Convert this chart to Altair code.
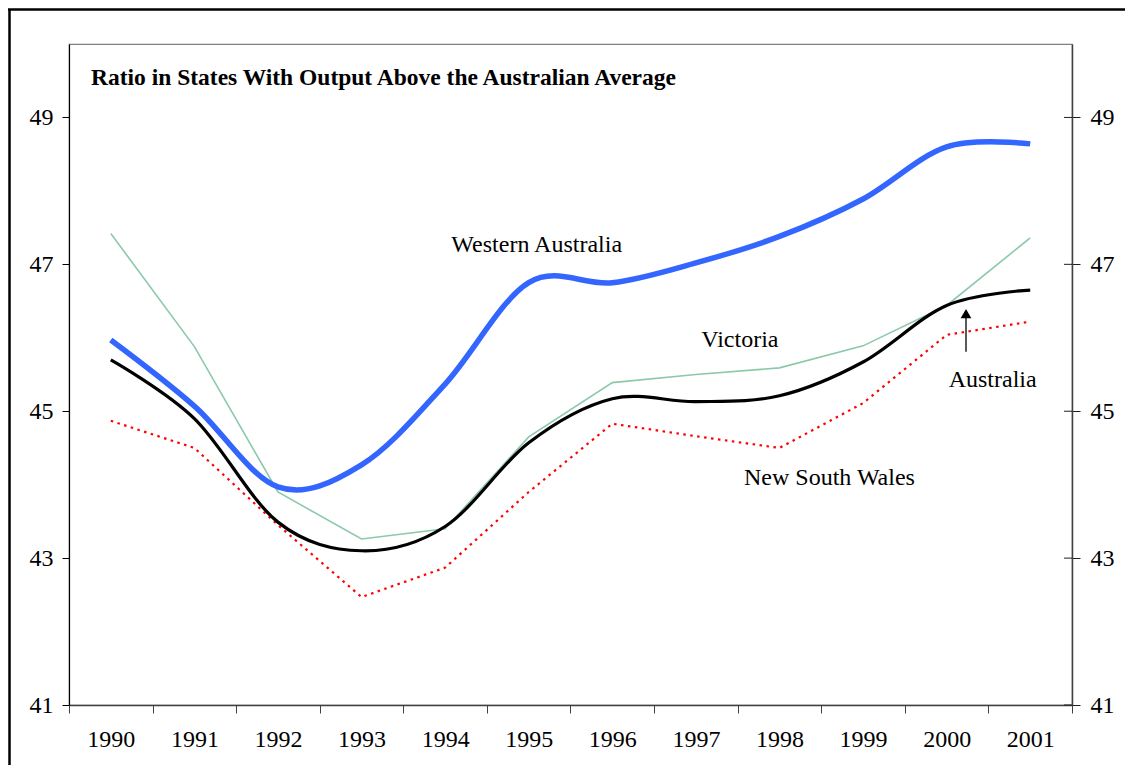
import altair as alt
import pandas as pd

years = ["1990", "1991", "1992", "1993", "1994", "1995", "1996", "1997", "1998", "1999", "2000", "2001"]
western_australia = [45.97, 45.07, 43.97, 44.27, 45.37, 46.75, 46.75, 47.02, 47.38, 47.89, 48.60, 48.64]
australia = [45.70, 44.90, 43.49, 43.10, 43.43, 44.57, 45.17, 45.13, 45.21, 45.67, 46.44, 46.65]
victoria = [47.42, 45.88, 43.90, 43.26, 43.40, 44.65, 45.39, 45.50, 45.59, 45.89, 46.44, 47.36]
new_south_wales = [44.87, 44.50, 43.45, 42.47, 42.87, 43.90, 44.83, 44.66, 44.50, 45.11, 46.04, 46.22]
y_ticks = [41, 43, 45, 47, 49]
title_text = "Ratio in States With Output Above the Australian Average"

W, H = 1003, 661
FONT = "Liberation Serif"
FS = 24

rows = []
for name, vals in [("Western Australia", western_australia), ("Australia", australia),
                   ("Victoria", victoria), ("New South Wales", new_south_wales)]:
    for yr, v in zip(years, vals):
        rows.append({"year": yr, "value": v, "series": name})
df = pd.DataFrame(rows)

yscale = alt.Scale(domain=[41, 50], nice=False, zero=False)
xscale = alt.Scale(type="band", domain=years, paddingInner=0, paddingOuter=0)

x_axis = alt.Axis(title=None, labelAngle=0, tickBand="extent", labelFont=FONT, labelFontSize=FS,
                  labelColor="black", tickSize=8, labelPadding=14, domainColor="#404040",
                  tickColor="#404040", grid=False, domainWidth=1.5, labelFlush=False)
left_axis = alt.Axis(title=None, values=y_ticks, labelFont=FONT, labelFontSize=FS, labelColor="black",
                     tickSize=7, labelPadding=9, domainColor="black", tickColor="black", grid=False,
                     domainWidth=1.2)
right_axis = alt.Axis(title=None, orient="right", values=y_ticks, labelFont=FONT, labelFontSize=FS,
                      labelColor="black", tickSize=8, labelPadding=10, domainColor="#404040",
                      tickColor="#202020", grid=False, domainWidth=1.5)

X = alt.X("year:O", scale=xscale, axis=x_axis, bandPosition=0.5)
base = alt.Chart(df)


def line_layer(name, color, width, interp, yaxis, dash=None):
    kw = dict(color=color, strokeWidth=width, interpolate=interp, clip=False)
    if interp == "cardinal":
        kw["tension"] = 0
    if dash:
        kw["strokeDash"] = dash
    return base.transform_filter(alt.datum.series == name).mark_line(**kw).encode(
        x=X,
        y=alt.Y("value:Q", scale=yscale, axis=yaxis),
    )


vic_line = line_layer("Victoria", "#8cc9aa", 1.6, "linear", left_axis)
nsw_line = line_layer("New South Wales", "#ff0000", 2.2, "linear", None, dash=[2.5, 4.5])
aus_line = line_layer("Australia", "black", 3.2, "cardinal", None)
wa_line = line_layer("Western Australia", "#3366ff", 5.5, "cardinal", None)

label_specs = [("Western Australia", "1995", 47.27, 8), ("Victoria", "1997", 45.97, 44),
               ("New South Wales", "1998", 44.09, 50), ("Australia", "2000", 45.43, 46)]
labels = []
for txt, yr, val, dx in label_specs:
    labels.append(
        alt.Chart(pd.DataFrame({"t": [txt], "year": [yr], "value": [val]}))
        .mark_text(font=FONT, fontSize=FS, color="black", dx=dx, baseline="middle", align="center")
        .encode(x=X, y=alt.Y("value:Q", scale=yscale, axis=None), text="t:N")
    )

arrow_df = pd.DataFrame({"y0": [45.81], "y1": [46.30], "tip": [46.33]})
arrow_x = 897
arrow_shaft = alt.Chart(arrow_df).mark_rule(color="black", strokeWidth=1.3).encode(
    x=alt.value(arrow_x), y=alt.Y("y0:Q", scale=yscale, axis=None), y2="y1:Q")
arrow_head = alt.Chart(arrow_df).mark_point(shape="triangle-up", filled=True, color="black",
                                            size=115, opacity=1).encode(
    x=alt.value(arrow_x), y=alt.Y("tip:Q", scale=yscale, axis=None))

right_ticks = alt.Chart(pd.DataFrame({"v": y_ticks})).mark_rule(color="#202020", strokeWidth=1).encode(
    y=alt.Y("v:Q", scale=yscale, axis=right_axis), x=alt.value(W - 8), x2=alt.value(W))

title = alt.Chart(pd.DataFrame({"t": [title_text]})).mark_text(
    font=FONT, fontSize=23.5, fontWeight="bold", color="black", align="left", baseline="alphabetic"
).encode(x=alt.value(22), y=alt.value(41), text="t:N")

frame_left = alt.Chart(pd.DataFrame({"a": [0]})).mark_rule(color="black", strokeWidth=2.5).encode(
    x=alt.value(-59.5), y=alt.value(-35), y2=alt.value(H + 120))
frame_top = alt.Chart(pd.DataFrame({"a": [0]})).mark_rule(color="black", strokeWidth=2.5).encode(
    y=alt.value(-34.5), x=alt.value(-61), x2=alt.value(W + 70))

chart = alt.layer(
    vic_line, nsw_line, aus_line, wa_line, *labels, arrow_shaft, arrow_head, right_ticks, title,
    frame_left, frame_top
).resolve_axis(y="independent").properties(
    width=W, height=H, autosize="none",
    padding={"left": 61, "top": 36, "right": 53, "bottom": 60},
    background="white",
).configure_view(stroke="#808080", strokeWidth=1.2)

chart.save("out.html", embed_options={"renderer": "svg", "actions": False})
